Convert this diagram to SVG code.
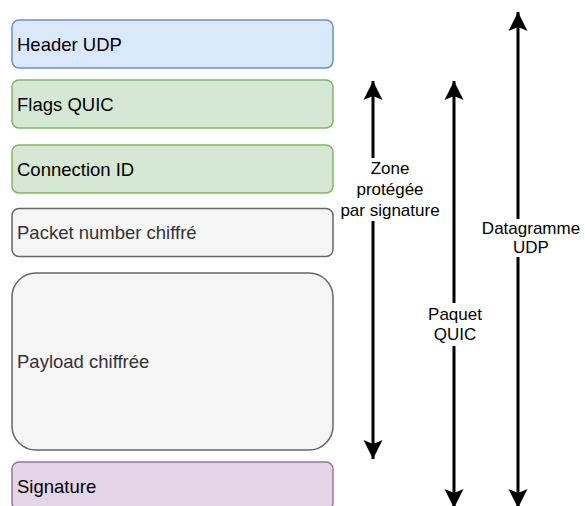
<svg xmlns="http://www.w3.org/2000/svg" width="585" height="506" viewBox="0 0 585 506">
<style>
.box{stroke-width:1.5}
.t{font-family:"Liberation Sans",Arial,Helvetica,sans-serif;font-size:18.5px;fill:#000}
.g{fill:#333333}
.lbl{font-family:"Liberation Sans",Arial,Helvetica,sans-serif;font-size:17px;fill:#000;text-anchor:middle}
.arr{stroke:#000;stroke-width:3;fill:none}
</style>
<defs>
<marker id="ah" viewBox="0 0 20 20" refX="19" refY="10" markerWidth="20" markerHeight="20" markerUnits="userSpaceOnUse" orient="auto-start-reverse">
<path d="M19,10 L0,0.5 L4,10 L0,19.5 Z" fill="#000"/>
</marker>
</defs>
<rect width="585" height="506" fill="#fff"/>
<g id="header-udp">
<rect class="box" x="12" y="20" width="321" height="48" rx="7" fill="#dae8fc" stroke="#6c8ebf"/>
<text class="t" x="17" y="50.5">Header UDP</text>
</g>
<g id="flags-quic">
<rect class="box" x="12" y="80" width="321" height="48" rx="7" fill="#d5e8d4" stroke="#82b366"/>
<text class="t" x="17" y="110.5">Flags QUIC</text>
</g>
<g id="connection-id">
<rect class="box" x="12" y="145" width="321" height="48" rx="7" fill="#d5e8d4" stroke="#82b366"/>
<text class="t" x="17" y="175.5">Connection ID</text>
</g>
<g id="packet-number">
<rect class="box" x="12" y="208.5" width="321" height="48" rx="7" fill="#f5f5f5" stroke="#666666"/>
<text class="t g" x="17" y="239">Packet number chiffré</text>
</g>
<g id="payload">
<rect class="box" x="12" y="273" width="321" height="177" rx="24" fill="#f5f5f5" stroke="#666666"/>
<text class="t g" x="17" y="367.5">Payload chiffrée</text>
</g>
<g id="signature">
<rect class="box" x="12" y="462" width="321" height="48" rx="7" fill="#e1d5e7" stroke="#9673a6"/>
<text class="t" x="17" y="493">Signature</text>
</g>
<g id="connectors">
<line class="arr" x1="373" y1="81" x2="373" y2="459" marker-start="url(#ah)" marker-end="url(#ah)"/>
<line class="arr" x1="454" y1="81" x2="454" y2="508" marker-start="url(#ah)" marker-end="url(#ah)"/>
<line class="arr" x1="518" y1="12" x2="518" y2="508" marker-start="url(#ah)" marker-end="url(#ah)"/>
<rect x="338" y="158" width="104" height="63" fill="#fff"/>
<text class="lbl" x="390" y="174">Zone</text>
<text class="lbl" x="390" y="195">protégée</text>
<text class="lbl" x="390" y="216">par signature</text>
<rect x="426" y="303" width="58" height="43" fill="#fff"/>
<text class="lbl" x="455" y="320">Paquet</text>
<text class="lbl" x="455" y="340">QUIC</text>
<rect x="480" y="219" width="104" height="38" fill="#fff"/>
<text class="lbl" x="531" y="234">Datagramme</text>
<text class="lbl" x="531" y="253">UDP</text>
</g>
</svg>
